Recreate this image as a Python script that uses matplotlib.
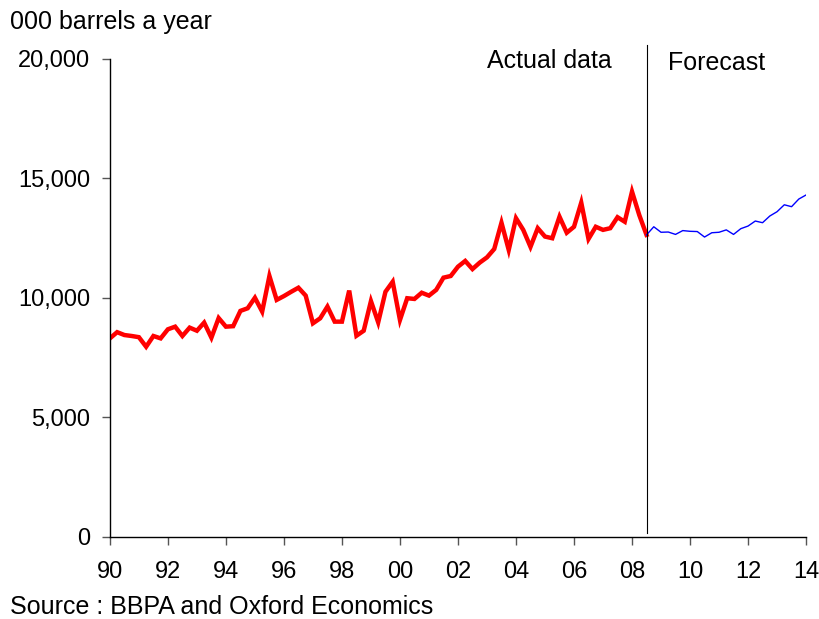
import numpy as np
import matplotlib.pyplot as plt

# Quarterly values, 000 barrels a year, starting 1990 Q1
actual = [
    8310, 8570, 8450, 8410, 8360, 7960, 8410, 8310, 8690, 8800,
    8410, 8760, 8630, 8970, 8340, 9160, 8800, 8820, 9460, 9570,
    10010, 9430, 10920, 9920, 10080, 10260, 10430, 10100, 8940, 9150,
    9640, 9010, 9010, 10310, 8420, 8630, 9870, 8980, 10260, 10680,
    9080, 9990, 9960, 10220, 10100, 10340, 10850, 10920, 11310, 11550,
    11210, 11480, 11700, 12050, 13150, 12010, 13340, 12850, 12140, 12920,
    12570, 12500, 13400, 12730, 12980, 13990, 12470, 12980, 12850, 12920,
    13380, 13190, 14450, 13470, 12640,
]
# Forecast starts at the last actual quarter (2008 Q3)
forecast = [
    12640, 12980, 12750, 12760, 12660, 12820, 12790, 12780, 12550, 12730,
    12750, 12850, 12660, 12900, 13010, 13220, 13150, 13430, 13610, 13900,
    13820, 14140, 14310,
]

start_year = 1990
split_idx = len(actual) - 1
x_actual = start_year + np.arange(len(actual)) / 4
x_forecast = start_year + (split_idx + np.arange(len(forecast))) / 4
split_year = start_year + split_idx / 4

year_ticks = list(range(1990, 2015, 2))
year_labels = [f"{y % 100:02d}" for y in year_ticks]
y_ticks = [0, 5000, 10000, 15000, 20000]

plt.rcParams["font.family"] = ["Liberation Sans", "DejaVu Sans"]
tick_fs = 17
text_fs = 18

fig = plt.figure(figsize=(8.2, 6.19), dpi=100)
ax = fig.add_axes([0.134, 0.1325, 0.849, 0.7722])

ax.plot(x_actual, actual, color="#ff0000", lw=3.2, solid_joinstyle="miter")
ax.plot(x_forecast, forecast, color="#0000ff", lw=1.0)

# divider between actual and forecast, runs a bit above the plot area
ax.plot([split_year, split_year], [150, 20600], color="black", lw=0.8,
        clip_on=False)

ax.set_xlim(1990, 2014)
ax.set_ylim(0, 20000)
ax.set_xticks(year_ticks)
ax.set_xticklabels(year_labels)
ax.set_yticks(y_ticks)
ax.set_yticklabels([f"{v:,}" for v in y_ticks])
ax.tick_params(axis="both", labelsize=tick_fs, direction="out", length=6,
               width=1, color="#555555")
ax.tick_params(axis="x", pad=11)
ax.tick_params(axis="y", pad=8)

for side in ("top", "right"):
    ax.spines[side].set_visible(False)
for side in ("left", "bottom"):
    ax.spines[side].set_color("black")
    ax.spines[side].set_linewidth(1)

ax.text(split_year - 1.2, 19900, "Actual data", ha="right", va="center",
        fontsize=text_fs)
ax.text(split_year + 0.75, 19850, "Forecast", ha="left", va="center",
        fontsize=text_fs)

fig.text(10 / 820, 1 - 22 / 619, "000 barrels a year", ha="left",
         va="center", fontsize=text_fs)
fig.text(10 / 820, 1 - 607 / 619, "Source : BBPA and Oxford Economics",
         ha="left", va="center", fontsize=text_fs)

fig.savefig("out.png", dpi=100)
